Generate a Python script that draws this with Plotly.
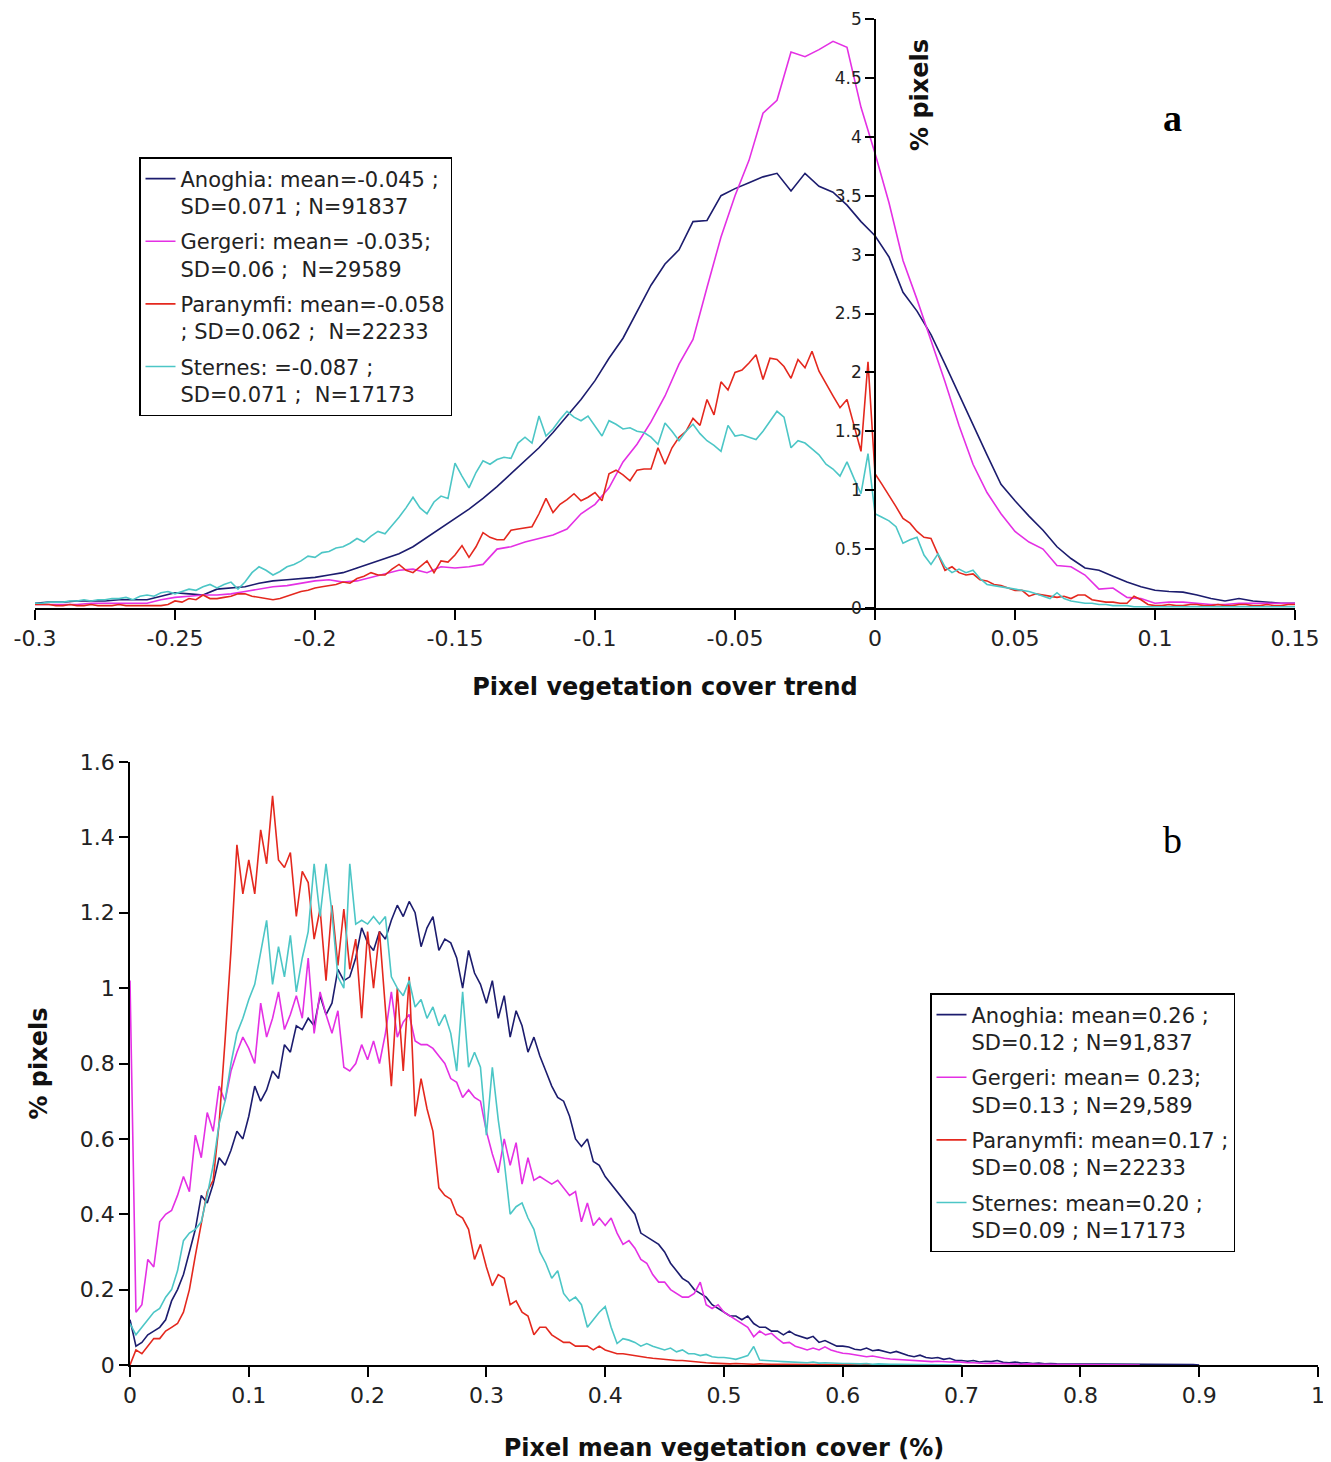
import numpy as np
import plotly.graph_objects as go

# ---------------- data: panel a (pixel vegetation cover trend) ----------------
TOP_X0, TOP_X1 = -0.3, 0.15
STEP_COARSE = 0.005   # bin width used for Anoghia / Gergeri
STEP_FINE = 0.0025    # bin width used for Paranymfi / Sternes

a_anoghia = [0.04, 0.05, 0.05, 0.06, 0.06, 0.06, 0.07, 0.07, 0.07, 0.10,
             0.13, 0.12, 0.11, 0.16, 0.17, 0.18, 0.21, 0.23, 0.24, 0.25,
             0.26, 0.28, 0.30, 0.34, 0.38, 0.42, 0.46, 0.52, 0.60, 0.68,
             0.76, 0.84, 0.93, 1.03, 1.14, 1.25, 1.36, 1.49, 1.63, 1.77,
             1.93, 2.12, 2.29, 2.52, 2.74, 2.92, 3.04, 3.28, 3.29, 3.50,
             3.56, 3.61, 3.66, 3.69, 3.54, 3.69, 3.58, 3.53, 3.42, 3.28,
             3.16, 2.98, 2.68, 2.52, 2.32, 2.07, 1.81, 1.55, 1.30, 1.05,
             0.91, 0.78, 0.66, 0.52, 0.42, 0.34, 0.32, 0.27, 0.22, 0.18,
             0.15, 0.14, 0.135, 0.11, 0.08, 0.06, 0.08, 0.06, 0.05, 0.04,
             0.04]

a_gergeri = [0.03, 0.03, 0.03, 0.03, 0.04, 0.04, 0.04, 0.04, 0.04, 0.07,
             0.09, 0.10, 0.11, 0.11, 0.12, 0.14, 0.16, 0.18, 0.19, 0.21,
             0.23, 0.24, 0.22, 0.23, 0.26, 0.29, 0.32, 0.33, 0.30, 0.35,
             0.34, 0.35, 0.37, 0.50, 0.52, 0.56, 0.59, 0.62, 0.67, 0.80,
             0.88, 1.02, 1.24, 1.39, 1.58, 1.80, 2.07, 2.28, 2.72, 3.15,
             3.50, 3.80, 4.20, 4.31, 4.72, 4.68, 4.74, 4.81, 4.76, 4.25,
             3.86, 3.44, 2.95, 2.62, 2.27, 1.92, 1.55, 1.22, 0.98, 0.80,
             0.65, 0.56, 0.50, 0.36, 0.35, 0.28, 0.16, 0.17, 0.09, 0.08,
             0.04, 0.05, 0.05, 0.04, 0.03, 0.03, 0.04, 0.04, 0.04, 0.04,
             0.04]

a_paranymfi = [0.03, 0.03, 0.03, 0.02, 0.02, 0.03, 0.02, 0.02, 0.03, 0.02,
               0.02, 0.02, 0.03, 0.02, 0.02, 0.02, 0.02, 0.02, 0.02, 0.03,
               0.06, 0.05, 0.08, 0.07, 0.11, 0.08, 0.08, 0.09, 0.10, 0.12,
               0.12, 0.10, 0.09, 0.08, 0.07, 0.08, 0.10, 0.12, 0.14, 0.15,
               0.17, 0.18, 0.19, 0.20, 0.22, 0.21, 0.25, 0.27, 0.30, 0.28,
               0.28, 0.33, 0.37, 0.32, 0.30, 0.35, 0.40, 0.30, 0.40, 0.39,
               0.45, 0.53, 0.43, 0.52, 0.64, 0.60, 0.58, 0.58, 0.66, 0.67,
               0.68, 0.69, 0.80, 0.93, 0.81, 0.88, 0.92, 0.97, 0.91, 0.94,
               0.98, 0.91, 1.14, 1.17, 1.13, 1.08, 1.17, 1.18, 1.18, 1.36,
               1.22, 1.36, 1.45, 1.50, 1.61, 1.55, 1.77, 1.64, 1.92, 1.85,
               2.00, 2.02, 2.08, 2.15, 1.94, 2.12, 2.11, 2.05, 1.95, 2.11,
               2.04, 2.18, 2.01, 1.90, 1.80, 1.70, 1.77, 1.55, 1.33, 2.09,
               1.14, 1.05, 0.96, 0.86, 0.76, 0.72, 0.65, 0.60, 0.59, 0.45,
               0.32, 0.35, 0.30, 0.28, 0.29, 0.24, 0.23, 0.20, 0.19, 0.17,
               0.15, 0.15, 0.10, 0.12, 0.11, 0.10, 0.09, 0.10, 0.08, 0.11,
               0.11, 0.07, 0.06, 0.05, 0.05, 0.04, 0.04, 0.10, 0.07, 0.03,
               0.02, 0.02, 0.03, 0.02, 0.02, 0.03, 0.03, 0.02, 0.02, 0.03,
               0.02, 0.02, 0.03, 0.03, 0.02, 0.02, 0.03, 0.02, 0.02, 0.03,
               0.03]

a_sternes = [0.04, 0.04, 0.05, 0.05, 0.05, 0.06, 0.06, 0.07, 0.06, 0.07,
             0.07, 0.08, 0.08, 0.09, 0.07, 0.10, 0.11, 0.10, 0.13, 0.14,
             0.12, 0.14, 0.16, 0.15, 0.18, 0.20, 0.17, 0.20, 0.22, 0.16,
             0.22, 0.30, 0.35, 0.32, 0.28, 0.31, 0.35, 0.37, 0.40, 0.44,
             0.43, 0.47, 0.48, 0.51, 0.52, 0.55, 0.59, 0.56, 0.61, 0.65,
             0.63, 0.70, 0.77, 0.85, 0.94, 0.85, 0.80, 0.90, 0.95, 0.93,
             1.23, 1.12, 1.02, 1.15, 1.25, 1.22, 1.26, 1.28, 1.27, 1.40,
             1.45, 1.40, 1.63, 1.46, 1.52, 1.60, 1.67, 1.62, 1.59, 1.63,
             1.55, 1.46, 1.59, 1.56, 1.52, 1.53, 1.50, 1.49, 1.45, 1.39,
             1.57, 1.50, 1.42, 1.50, 1.56, 1.48, 1.42, 1.38, 1.33, 1.55,
             1.46, 1.47, 1.45, 1.43, 1.50, 1.58, 1.67, 1.62, 1.36, 1.42,
             1.40, 1.35, 1.30, 1.22, 1.18, 1.12, 1.24, 1.10, 0.97, 1.31,
             0.80, 0.77, 0.74, 0.69, 0.55, 0.58, 0.60, 0.45, 0.37, 0.46,
             0.35, 0.30, 0.33, 0.30, 0.32, 0.25, 0.20, 0.19, 0.18, 0.17,
             0.16, 0.15, 0.14, 0.12, 0.10, 0.08, 0.13, 0.08, 0.06, 0.05,
             0.04, 0.04, 0.03, 0.03, 0.02, 0.02, 0.02, 0.01, 0.01, 0.01,
             0.01, 0.01, 0.01, 0.01, 0.01, 0.01, 0.01, 0.01, 0.01, 0.01,
             0.01, 0.01, 0.01, 0.01, 0.01, 0.01, 0.01, 0.01, 0.01, 0.01,
             0.01]

top_xtick_vals = [-0.3, -0.25, -0.2, -0.15, -0.1, -0.05, 0, 0.05, 0.1, 0.15]
top_xtick_text = ["-0.3", "-0.25", "-0.2", "-0.15", "-0.1", "-0.05", "0", "0.05", "0.1", "0.15"]
top_ytick_vals = [0, 0.5, 1, 1.5, 2, 2.5, 3, 3.5, 4, 4.5, 5]
top_ytick_text = ["0", "0.5", "1", "1.5", "2", "2.5", "3", "3.5", "4", "4.5", "5"]

top_names = ["Anoghia: mean=-0.045 ;<br>SD=0.071 ; N=91837",
             "Gergeri: mean= -0.035;<br>SD=0.06 ;  N=29589",
             "Paranymfi: mean=-0.058<br>; SD=0.062 ;  N=22233",
             "Sternes: =-0.087 ;<br>SD=0.071 ;  N=17173"]

# ---------------- data: panel b (pixel mean vegetation cover) ----------------
BOT_STEP = 0.005

b_anoghia = [0.12, 0.05, 0.06, 0.08, 0.09, 0.10, 0.12, 0.17, 0.20, 0.24,
             0.30, 0.36, 0.45, 0.43, 0.48, 0.55, 0.53, 0.57, 0.62, 0.60,
             0.66, 0.74, 0.70, 0.73, 0.78, 0.76, 0.85, 0.83, 0.90, 0.89,
             0.92, 0.90, 0.98, 0.93, 0.96, 1.05, 1.02, 1.03, 1.08, 1.16,
             1.12, 1.10, 1.15, 1.13, 1.18, 1.22, 1.19, 1.23, 1.20, 1.11,
             1.16, 1.19, 1.10, 1.13, 1.12, 1.08, 1.00, 1.10, 1.04, 1.01,
             0.96, 1.02, 0.92, 0.98, 0.87, 0.94, 0.90, 0.83, 0.87, 0.82,
             0.78, 0.74, 0.71, 0.70, 0.66, 0.60, 0.58, 0.60, 0.54, 0.53,
             0.50, 0.48, 0.46, 0.44, 0.42, 0.40, 0.35, 0.34, 0.33, 0.32,
             0.30, 0.27, 0.25, 0.23, 0.22, 0.20, 0.19, 0.18, 0.16, 0.15,
             0.14, 0.13, 0.13, 0.12, 0.13, 0.11, 0.10, 0.10, 0.09, 0.09,
             0.08, 0.09, 0.08, 0.075, 0.07, 0.076, 0.06, 0.065, 0.058, 0.05,
             0.05, 0.048, 0.042, 0.04, 0.045, 0.038, 0.04, 0.035, 0.032, 0.036,
             0.03, 0.025, 0.022, 0.026, 0.02, 0.018, 0.02, 0.015, 0.018, 0.012,
             0.012, 0.01, 0.012, 0.008, 0.01, 0.009, 0.012, 0.007, 0.006, 0.008,
             0.005, 0.006, 0.004, 0.005, 0.003, 0.004, 0.003, 0.003, 0.002, 0.003,
             0.002, 0.002, 0.003, 0.002, 0.001, 0.002, 0.002, 0.001, 0.002, 0.001,
             0.001, 0.002, 0.001, 0.001, 0.002, 0.001, 0.001, 0.001, 0.001, 0.001,
             0.0]

b_gergeri = [1.02, 0.14, 0.16, 0.28, 0.26, 0.38, 0.40, 0.41, 0.45, 0.50,
             0.46, 0.61, 0.55, 0.67, 0.62, 0.74, 0.70, 0.78, 0.83, 0.87,
             0.84, 0.80, 0.96, 0.87, 0.92, 0.99, 0.89, 0.93, 0.98, 0.92,
             1.08, 0.88, 0.99, 0.93, 0.88, 0.94, 0.79, 0.78, 0.80, 0.85,
             0.81, 0.86, 0.80, 0.88, 0.99, 0.87, 0.91, 0.93, 0.86, 0.85,
             0.85, 0.84, 0.82, 0.80, 0.76, 0.75, 0.71, 0.73, 0.71, 0.70,
             0.62, 0.56, 0.51, 0.60, 0.53, 0.59, 0.48, 0.55, 0.49, 0.50,
             0.49, 0.48, 0.49, 0.47, 0.45, 0.46, 0.38, 0.43, 0.37, 0.39,
             0.37, 0.39, 0.35, 0.32, 0.33, 0.31, 0.28, 0.27, 0.24, 0.22,
             0.22, 0.20, 0.19, 0.18, 0.18, 0.19, 0.22, 0.16, 0.15, 0.16,
             0.14, 0.13, 0.12, 0.11, 0.10, 0.075, 0.09, 0.08, 0.084, 0.07,
             0.058, 0.06, 0.05, 0.045, 0.04, 0.045, 0.04, 0.048, 0.04, 0.035,
             0.031, 0.03, 0.028, 0.025, 0.022, 0.024, 0.02, 0.018, 0.016, 0.015,
             0.014, 0.013, 0.012, 0.012, 0.01, 0.009, 0.01, 0.009, 0.008, 0.009,
             0.007, 0.006, 0.006, 0.005, 0.004, 0.005, 0.004, 0.003, 0.003, 0.003,
             0.002, 0.003, 0.002, 0.002, 0.002, 0.001, 0.002, 0.001, 0.001, 0.001,
             0.001, 0.001, 0.001, 0.001, 0.0, 0.001, 0.0, 0.0, 0.0, 0.0,
             0.0]

b_paranymfi = [0.00, 0.04, 0.03, 0.05, 0.07, 0.07, 0.09, 0.10, 0.11, 0.14,
               0.20, 0.29, 0.37, 0.46, 0.49, 0.64, 0.86, 1.10, 1.38, 1.25,
               1.34, 1.25, 1.42, 1.33, 1.51, 1.34, 1.32, 1.36, 1.19, 1.31,
               1.28, 1.13, 1.21, 1.02, 1.22, 1.06, 1.21, 1.05, 1.13, 0.92,
               1.15, 1.00, 1.15, 0.94, 0.74, 1.00, 0.78, 1.03, 0.66, 0.76,
               0.68, 0.62, 0.47, 0.45, 0.44, 0.40, 0.39, 0.36, 0.28, 0.32,
               0.26, 0.21, 0.24, 0.23, 0.16, 0.17, 0.14, 0.13, 0.08, 0.10,
               0.10, 0.08, 0.07, 0.06, 0.06, 0.05, 0.05, 0.05, 0.04, 0.05,
               0.04, 0.035, 0.03, 0.03, 0.027, 0.025, 0.022, 0.02, 0.018, 0.016,
               0.015, 0.013, 0.012, 0.012, 0.01, 0.008, 0.007, 0.006, 0.005, 0.004,
               0.004, 0.003, 0.004, 0.003, 0.003, 0.002, 0.003, 0.002, 0.002, 0.002,
               0.002, 0.002, 0.001, 0.002, 0.001, 0.002, 0.001, 0.001, 0.001, 0.001,
               0.001, 0.001, 0.001, 0.0, 0.001, 0.0, 0.001, 0.0, 0.0, 0.0,
               0.0]

b_sternes = [0.11, 0.08, 0.10, 0.12, 0.14, 0.15, 0.18, 0.20, 0.25, 0.33,
             0.35, 0.36, 0.38, 0.45, 0.53, 0.64, 0.70, 0.80, 0.88, 0.92,
             0.97, 1.01, 1.10, 1.18, 1.01, 1.11, 1.03, 1.14, 0.99, 1.08,
             1.15, 1.33, 1.19, 1.33, 1.20, 1.03, 1.00, 1.33, 1.17, 1.18,
             1.17, 1.19, 1.17, 1.19, 1.03, 1.00, 0.98, 1.02, 0.95, 0.97,
             0.92, 0.95, 0.90, 0.93, 0.88, 0.78, 0.99, 0.79, 0.83, 0.79,
             0.61, 0.79, 0.65, 0.54, 0.40, 0.42, 0.43, 0.39, 0.36, 0.30,
             0.27, 0.23, 0.25, 0.19, 0.17, 0.18, 0.16, 0.10, 0.12, 0.14,
             0.155, 0.10, 0.057, 0.07, 0.066, 0.06, 0.05, 0.057, 0.05, 0.045,
             0.04, 0.045, 0.035, 0.04, 0.03, 0.03, 0.025, 0.028, 0.022, 0.02,
             0.02, 0.018, 0.015, 0.02, 0.025, 0.049, 0.013, 0.012, 0.01, 0.01,
             0.009, 0.008, 0.009, 0.007, 0.006, 0.008, 0.005, 0.006, 0.005, 0.004,
             0.004, 0.004, 0.003, 0.003, 0.004, 0.002, 0.003, 0.002, 0.002, 0.002,
             0.002, 0.001, 0.002, 0.001, 0.001, 0.001, 0.001, 0.0, 0.001, 0.0,
             0.0]

bot_xtick_vals = [0, 0.1, 0.2, 0.3, 0.4, 0.5, 0.6, 0.7, 0.8, 0.9, 1]
bot_xtick_text = ["0", "0.1", "0.2", "0.3", "0.4", "0.5", "0.6", "0.7", "0.8", "0.9", "1"]
bot_ytick_vals = [0, 0.2, 0.4, 0.6, 0.8, 1, 1.2, 1.4, 1.6]
bot_ytick_text = ["0", "0.2", "0.4", "0.6", "0.8", "1", "1.2", "1.4", "1.6"]

bot_names = ["Anoghia: mean=0.26 ;<br>SD=0.12 ; N=91,837",
             "Gergeri: mean= 0.23;<br>SD=0.13 ; N=29,589",
             "Paranymfi: mean=0.17 ;<br>SD=0.08 ; N=22233",
             "Sternes: mean=0.20 ;<br>SD=0.09 ; N=17173"]

# ---------------- styling ----------------
PAGE_W, PAGE_H = 1331, 1462
BODY = 8                      # default page margin around the plot div
W, H = PAGE_W - BODY, PAGE_H - BODY
COLORS = ["#1c1c6e", "#e430e4", "#e4281e", "#4cc6c6"]
LW = 1.6
TICK_FONT = dict(family="DejaVu Sans", size=22, color="#222222")
TITLE_FONT = dict(family="DejaVu Sans", size=24, color="#111111", weight="bold")


def px(x):
    return (x - BODY) / W


def py(y):
    return 1 - (y - BODY) / H


def grid(start, step, n):
    return np.round(start + step * np.arange(n), 5)


fig = go.Figure()

top_series = [(a_anoghia, STEP_COARSE), (a_gergeri, STEP_COARSE),
              (a_paranymfi, STEP_FINE), (a_sternes, STEP_FINE)]
for i, (vals, step) in enumerate(top_series):
    fig.add_trace(go.Scatter(
        x=grid(TOP_X0, step, len(vals)), y=vals, mode="lines",
        line=dict(color=COLORS[i], width=LW), name=top_names[i],
        legend="legend", legendgroup=f"top{i}", xaxis="x", yaxis="y"))

bot_series = [b_anoghia, b_gergeri, b_paranymfi, b_sternes]
for i, vals in enumerate(bot_series):
    fig.add_trace(go.Scatter(
        x=grid(0.0, BOT_STEP, len(vals)), y=vals, mode="lines",
        line=dict(color=COLORS[i], width=LW), name=bot_names[i],
        legend="legend2", legendgroup=f"bot{i}", xaxis="x2", yaxis="y2"))

axis_common = dict(showgrid=False, zeroline=False, showline=True, linecolor="black",
                   linewidth=1.5, ticks="outside", tickcolor="black", tickwidth=1.5,
                   automargin=False, tickfont=TICK_FONT, tickmode="array",
                   ticklabeloverflow="allow")

legend_common = dict(xanchor="left", yanchor="top", bgcolor="white",
                     bordercolor="black", borderwidth=1.5, valign="top",
                     itemwidth=30, tracegroupgap=5,
                     font=dict(family="DejaVu Sans", size=21, color="#222222"))

fig.update_layout(
    width=W, height=H, margin=dict(l=0, r=0, t=0, b=0),
    paper_bgcolor="white", plot_bgcolor="white", showlegend=True,
    xaxis=dict(axis_common, domain=[px(35), px(1295)], anchor="y",
               range=[TOP_X0, TOP_X1], tickvals=top_xtick_vals, ticktext=top_xtick_text,
               ticklen=10,
               title=dict(text="Pixel vegetation cover trend", font=TITLE_FONT, standoff=28)),
    yaxis=dict(axis_common, domain=[py(608), py(19)], anchor="free", position=px(875),
               side="left", range=[0, 5], tickvals=top_ytick_vals, ticktext=top_ytick_text,
               ticklen=9, tickfont=dict(family="DejaVu Sans", size=17, color="#222222")),
    xaxis2=dict(axis_common, domain=[px(130), px(1318)], anchor="y2",
                range=[0, 1], tickvals=bot_xtick_vals, ticktext=bot_xtick_text,
                ticklen=10,
                title=dict(text="Pixel mean vegetation cover (%)", font=TITLE_FONT, standoff=37)),
    yaxis2=dict(axis_common, domain=[py(1365), py(762)], anchor="x2",
                range=[0, 1.6], tickvals=bot_ytick_vals, ticktext=bot_ytick_text,
                ticklen=9,
                title=dict(text="% pixels", font=TITLE_FONT, standoff=25)),
    legend=dict(legend_common, x=px(139), y=py(157)),
    legend2=dict(legend_common, x=px(930), y=py(993)),
    annotations=[
        dict(text="% pixels", xref="paper", yref="paper", x=px(920), y=py(95),
             textangle=-90, showarrow=False, font=TITLE_FONT,
             xanchor="center", yanchor="middle"),
        dict(text="<b>a</b>", xref="paper", yref="paper", x=px(1172), y=py(118),
             showarrow=False, font=dict(family="Liberation Serif", size=38, color="black"),
             xanchor="center", yanchor="middle"),
        dict(text="b", xref="paper", yref="paper", x=px(1172), y=py(840),
             showarrow=False, font=dict(family="Liberation Serif", size=38, color="black"),
             xanchor="center", yanchor="middle"),
    ],
)

fig.write_html("out.html")
